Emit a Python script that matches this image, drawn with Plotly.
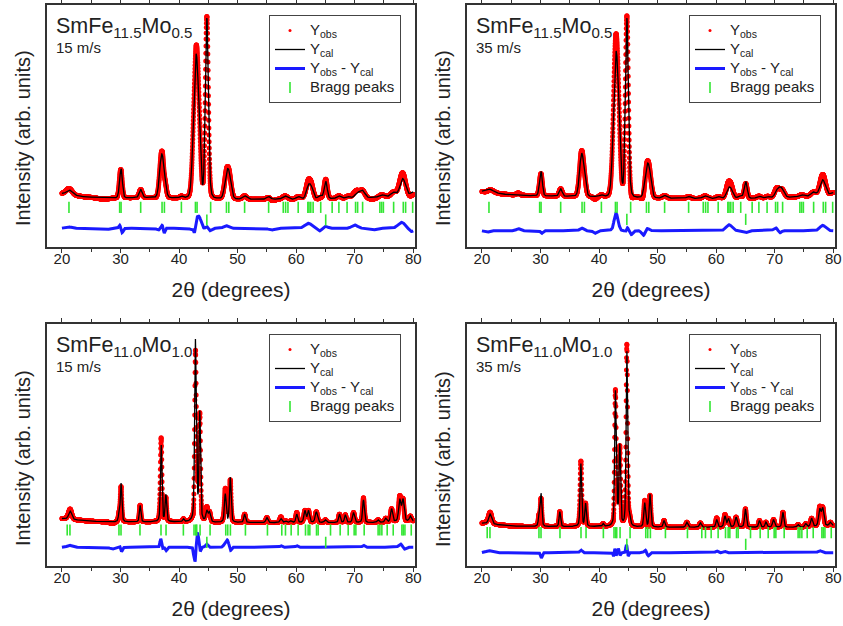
import numpy as np
import plotly.graph_objects as go

# ---------------------------------------------------------------------------
# Rietveld refinement of melt-spun SmFe(12-x)Mo(x) ribbons (Cu K-alpha)
# Each pattern: refined background points, refined reflection list
# (position, height, FWHM) for the calculated profile, and the
# observed-minus-calculated misfit features.
# ---------------------------------------------------------------------------
TT_MIN, TT_MAX, TT_STEP = 20.0, 80.0, 0.02

# ---- SmFe11.5Mo0.5, 15 m/s -------------------------------------------------
mo05_15_bg_tt = [20, 24, 28, 34, 40, 46, 52, 60, 66, 70, 74, 80]
mo05_15_bg_y = [160, 150, 147, 148, 146, 144, 143, 143, 145, 146, 149, 155]
mo05_15_pk_pos = [21.3, 29.85, 30.12, 33.45, 37.0, 37.5, 40.4, 42.8, 43.3, 44.75, 45.4,
                  48.1, 48.6, 51.2, 55.3, 58.1, 60.35, 62.05, 62.6, 64.1, 65.05, 67.3, 68.8,
                  70.4, 71.3, 74.6, 76.6, 78.2, 79.9]
mo05_15_pk_h = [14, 15, 80, 24, 120, 40, 5, 360, 170, 539, 8,
                62, 58, 10, 8, 10, 8, 34, 30, 10, 52, 8, 6,
                14, 22, 7, 12, 52, 10]
mo05_15_pk_w = [1.2, 0.5, 0.5, 0.6, 0.8, 0.7, 0.6, 0.9, 0.8, 0.6, 0.6,
                0.8, 0.8, 0.8, 0.8, 1.0, 0.8, 0.8, 0.8, 0.8, 0.6, 0.8, 0.8,
                1.0, 1.0, 1.0, 1.0, 1.1, 0.8]
mo05_15_res_pos = [21.0, 27.0, 29.95, 30.2, 36.5, 37.2, 37.45, 42.3, 42.65, 42.9, 43.5,
                   44.8, 45.2, 48.0, 55.8, 62.1, 64.0, 65.0, 70.0, 73.0, 78.0, 79.7]
mo05_15_res_amp = [5, -4, 15, -18, -6, 12, -22, -10, -30, 28, 25,
                   8, -8, 8, -5, 15, -8, 6, 10, -5, 18, -10]
mo05_15_res_w = [0.5, 1.0, 0.2, 0.2, 0.3, 0.3, 0.15, 0.3, 0.15, 0.4, 0.3,
                 0.2, 0.3, 0.4, 0.5, 0.6, 0.4, 0.4, 0.5, 0.6, 0.6, 0.4]
mo05_15_bragg = [21.2, 29.86, 30.1, 33.45, 37.1, 37.5, 40.4, 42.8, 43.08, 45.4, 48.1, 48.5,
                 51.2, 55.3, 57.8, 58.2, 58.6, 60.35, 62.0, 62.2, 62.5, 62.9, 64.2, 66.15,
                 67.3, 68.7, 70.15, 70.5, 71.35, 74.3, 74.6, 74.9, 76.65, 78.3, 78.7, 79.9]

# ---- SmFe11.5Mo0.5, 35 m/s -------------------------------------------------
mo05_35_bg_tt = [20, 24, 28, 34, 40, 46, 52, 60, 66, 70, 74, 80]
mo05_35_bg_y = [166, 158, 154, 152, 150, 147, 146, 145, 146, 147, 150, 155]
mo05_35_pk_pos = [21.3, 29.85, 30.12, 33.45, 37.0, 37.5, 40.4, 42.8, 43.3, 44.75, 45.4,
                  48.1, 48.6, 51.2, 55.3, 58.1, 60.35, 62.05, 62.6, 64.1, 65.05, 67.3, 68.8,
                  70.5, 71.2, 74.6, 76.6, 78.2, 79.9]
mo05_35_pk_h = [10, 15, 66, 22, 120, 35, 5, 365, 170, 536, 8,
                72, 66, 8, 6, 8, 6, 26, 22, 8, 50, 6, 5,
                22, 24, 6, 12, 48, 8]
mo05_35_pk_w = [1.5, 0.5, 0.5, 0.6, 0.8, 0.7, 0.6, 0.9, 0.8, 0.6, 0.6,
                0.8, 0.8, 0.8, 0.8, 1.0, 0.8, 0.8, 0.8, 0.8, 0.6, 0.8, 0.8,
                1.0, 1.0, 1.0, 1.0, 1.1, 0.8]
mo05_35_res_pos = [20.8, 26.2, 30.2, 37.0, 39.3, 42.4, 42.75, 43.1, 44.6, 44.8, 45.5,
                   47.6, 48.2, 62.2, 65.0, 70.3, 70.8, 78.2]
mo05_35_res_amp = [-5, 6, -8, 8, -8, -10, 40, 20, -8, 12, -12,
                   -15, 8, 18, -6, 10, -10, 16]
mo05_35_res_w = [0.4, 0.3, 0.2, 0.3, 0.3, 0.2, 0.35, 0.3, 0.15, 0.2, 0.3,
                 0.3, 0.3, 0.5, 0.4, 0.4, 0.3, 0.5]
mo05_35_bragg = mo05_15_bragg

# ---- SmFe11.0Mo1.0, 15 m/s -------------------------------------------------
mo10_15_bg_tt = [20, 25, 28, 35, 40, 46, 50, 55, 60, 65, 70, 75, 80]
mo10_15_bg_y = [142, 134, 132, 132, 132, 130, 130, 130, 130, 130, 130, 130, 134]
mo10_15_pk_pos = [21.4, 29.75, 30.1, 33.35, 36.95, 37.75, 40.75, 42.8, 43.1, 43.55, 44.75,
                  45.2, 47.9, 48.75, 51.2, 55.0, 57.4, 58.2, 59.1, 60.1, 61.5, 62.1, 63.45,
                  65.0, 67.4, 68.4, 69.8, 71.5, 74.0, 75.3, 76.3, 77.7, 78.25, 79.5]
mo10_15_pk_h = [25, 20, 115, 50, 230, 80, 8, 540, 40, 325, 32,
                28, 85, 135, 25, 15, 12, 5, 5, 25, 35, 35, 32,
                8, 25, 23, 30, 68, 8, 12, 40, 65, 65, 15]
mo10_15_pk_w = [0.6, 0.3, 0.3, 0.3, 0.3, 0.3, 0.3, 0.32, 0.3, 0.3, 0.4,
                0.4, 0.35, 0.32, 0.35, 0.4, 0.4, 0.4, 0.4, 0.35, 0.4, 0.4, 0.45,
                0.4, 0.35, 0.35, 0.4, 0.35, 0.4, 0.4, 0.4, 0.45, 0.45, 0.4]
mo10_15_res_pos = [21.3, 28.6, 29.95, 30.15, 36.9, 37.1, 37.8, 42.5, 42.75, 43.05, 43.3,
                   43.6, 44.7, 48.0, 48.3, 48.8, 57.4, 60.1, 71.5, 77.8, 78.5]
mo10_15_res_amp = [6, -5, 6, -15, 28, -8, -10, -15, -45, 35, 25,
                   -15, 10, 15, 12, -10, 5, 5, 6, 10, -6]
mo10_15_res_w = [0.4, 0.4, 0.15, 0.15, 0.15, 0.15, 0.15, 0.1, 0.15, 0.15, 0.15,
                 0.12, 0.2, 0.3, 0.2, 0.15, 0.2, 0.2, 0.2, 0.3, 0.2]
mo10_15_bragg = [20.9, 21.37, 29.74, 30.09, 33.33, 36.92, 37.78, 40.74, 42.56, 42.85, 43.02,
                 43.59, 45.3, 47.98, 48.32, 48.77, 51.34, 55.1, 57.55, 58.18, 59.15, 60.34,
                 61.6, 62.05, 62.34, 63.48, 63.76, 65.87, 67.52, 68.89, 69.91, 70.2, 71.62,
                 74.0, 74.3, 74.64, 75.55, 76.58, 78.06, 78.29, 78.58, 79.66]

# ---- SmFe11.0Mo1.0, 35 m/s -------------------------------------------------
mo10_35_bg_tt = [20, 25, 28, 35, 40, 46, 50, 55, 60, 65, 70, 75, 80]
mo10_35_bg_y = [128, 120, 118, 118, 118, 116, 116, 116, 116, 116, 116, 116, 121]
mo10_35_pk_pos = [21.4, 29.75, 30.1, 33.3, 36.9, 37.7, 40.7, 42.8, 43.1, 43.55, 44.75,
                  45.2, 47.8, 48.7, 51.1, 55.0, 57.3, 60.1, 61.5, 62.1, 63.4, 65.0,
                  67.4, 68.5, 69.8, 71.4, 74.0, 75.3, 76.3, 77.7, 78.2, 79.5]
mo10_35_pk_h = [30, 30, 98, 45, 188, 68, 8, 400, 40, 240, 525,
                20, 72, 98, 20, 15, 13, 23, 33, 25, 30, 55,
                20, 15, 23, 45, 8, 10, 25, 50, 52, 10]
mo10_35_pk_w = [0.6, 0.3, 0.3, 0.3, 0.3, 0.3, 0.3, 0.3, 0.3, 0.3, 0.3,
                0.4, 0.35, 0.32, 0.35, 0.4, 0.4, 0.35, 0.4, 0.4, 0.45, 0.35,
                0.35, 0.35, 0.4, 0.35, 0.4, 0.4, 0.4, 0.45, 0.45, 0.4]
mo10_35_res_pos = [21.2, 30.15, 36.9, 42.5, 42.7, 42.9, 43.3, 43.6, 44.7, 44.95,
                   47.9, 48.4, 60.1, 61.5, 77.7]
mo10_35_res_amp = [6, -16, 8, -12, 15, -10, 12, -8, 25, -12,
                   8, -10, 5, 4, 6]
mo10_35_res_w = [0.5, 0.15, 0.2, 0.1, 0.1, 0.1, 0.1, 0.1, 0.12, 0.12,
                 0.2, 0.2, 0.2, 0.2, 0.3]
mo10_35_bragg = mo10_15_bragg

# Second phase: alpha-Fe (110) and (200)
fe_bragg = [44.75, 65.05]

titles = ["SmFe<sub>11.5</sub>Mo<sub>0.5</sub>", "SmFe<sub>11.5</sub>Mo<sub>0.5</sub>",
          "SmFe<sub>11.0</sub>Mo<sub>1.0</sub>", "SmFe<sub>11.0</sub>Mo<sub>1.0</sub>"]
speeds = ["15 m/s", "35 m/s", "15 m/s", "35 m/s"]

# ---------------------------------------------------------------------------
# Profile model (pseudo-Voigt, peak-height normalised)
# ---------------------------------------------------------------------------
def pseudo_voigt(tt, pos, h, w, eta):
    d = (tt - pos) / w
    lor = 1.0 / (1.0 + 4.0 * d * d)
    gau = np.exp(-4.0 * np.log(2.0) * d * d)
    return h * (eta * lor + (1.0 - eta) * gau)


def calc_profile(tt, bg_tt, bg_y, pos, h, w, eta):
    y = np.interp(tt, bg_tt, bg_y)
    for p, a, fw in zip(pos, h, w):
        y = y + pseudo_voigt(tt, p, a, fw, eta)
    return y


def misfit(tt, pos, amp, w):
    r = np.zeros_like(tt)
    for p, a, s in zip(pos, amp, w):
        r = r + a * np.exp(-0.5 * ((tt - p) / s) ** 2)
    return r


tt = np.arange(TT_MIN, TT_MAX + TT_STEP / 2, TT_STEP)

panels = [
    dict(bg=(mo05_15_bg_tt, mo05_15_bg_y), pk=(mo05_15_pk_pos, mo05_15_pk_h, mo05_15_pk_w),
         res=(mo05_15_res_pos, mo05_15_res_amp, mo05_15_res_w), bragg=mo05_15_bragg, eta=0.1),
    dict(bg=(mo05_35_bg_tt, mo05_35_bg_y), pk=(mo05_35_pk_pos, mo05_35_pk_h, mo05_35_pk_w),
         res=(mo05_35_res_pos, mo05_35_res_amp, mo05_35_res_w), bragg=mo05_35_bragg, eta=0.1),
    dict(bg=(mo10_15_bg_tt, mo10_15_bg_y), pk=(mo10_15_pk_pos, mo10_15_pk_h, mo10_15_pk_w),
         res=(mo10_15_res_pos, mo10_15_res_amp, mo10_15_res_w), bragg=mo10_15_bragg, eta=0.4),
    dict(bg=(mo10_35_bg_tt, mo10_35_bg_y), pk=(mo10_35_pk_pos, mo10_35_pk_h, mo10_35_pk_w),
         res=(mo10_35_res_pos, mo10_35_res_amp, mo10_35_res_w), bragg=mo10_35_bragg, eta=0.4),
]

# vertical placement of the difference curve and the two tick rows
diff_offset = [56, 49, 56, 40]
tick_row_main = [119, 119, 108, 100]
tick_row_fe = [81, 83, 71, 65]

# ---------------------------------------------------------------------------
# Figure
# ---------------------------------------------------------------------------
W, H = 843, 626
FONT = "Liberation Sans, Arial, sans-serif"
TXT = "#222222"
RED, BLUE, GREEN = "#ff0000", "#1a1aff", "#33e633"


def big(s):
    return '<span style="font-size:15px">' + s + "</span>"


# plot-area boxes in pixels: (left, right, top, bottom)
boxes = [(47, 415, 5, 247), (467, 835, 5, 247), (47, 415, 324, 566), (467, 835, 324, 566)]
ytitle_center = [(23, 138), (443, 138), (23, 458), (443, 459)]

fig = go.Figure()
layout = dict(width=W, height=H, margin=dict(l=0, r=0, t=0, b=0),
              paper_bgcolor="white", plot_bgcolor="white", showlegend=True,
              font=dict(family=FONT, color=TXT))
annotations = []

for i, (pn, box) in enumerate(zip(panels, boxes)):
    k = "" if i == 0 else str(i + 1)
    xa, ya = "x" + k, "y" + k
    lg = "legend" + k
    ycal = calc_profile(tt, *pn["bg"], *pn["pk"], pn["eta"])
    diff = misfit(tt, *pn["res"])
    yobs = ycal + diff

    # observed points (legend key drawn by a small-dot entry below)
    fig.add_trace(go.Scatter(x=tt, y=yobs, mode="markers", showlegend=False,
                             marker=dict(color=RED, size=5, line=dict(width=0)),
                             xaxis=xa, yaxis=ya))
    fig.add_trace(go.Scatter(x=[None], y=[None], mode="markers", name=big("Y<sub>obs</sub>"),
                             marker=dict(color=RED, size=3, line=dict(width=0)),
                             xaxis=xa, yaxis=ya, legend=lg))
    fig.add_trace(go.Scatter(x=tt, y=ycal, mode="lines", name=big("Y<sub>cal</sub>"),
                             line=dict(color="black", width=1.3),
                             xaxis=xa, yaxis=ya, legend=lg))
    fig.add_trace(go.Scatter(x=tt, y=diff + diff_offset[i], mode="lines",
                             name=big("Y<sub>obs</sub> - Y<sub>cal</sub>"),
                             line=dict(color=BLUE, width=3),
                             xaxis=xa, yaxis=ya, legend=lg))
    fig.add_trace(go.Scatter(x=pn["bragg"], y=[tick_row_main[i]] * len(pn["bragg"]),
                             mode="markers", name=big("Bragg peaks"),
                             marker=dict(symbol="line-ns", size=8, color=GREEN,
                                         line=dict(color=GREEN, width=1.6)),
                             xaxis=xa, yaxis=ya, legend=lg))
    fig.add_trace(go.Scatter(x=fe_bragg, y=[tick_row_fe[i]] * len(fe_bragg),
                             mode="markers", showlegend=False,
                             marker=dict(symbol="line-ns", size=8, color=GREEN,
                                         line=dict(color=GREEN, width=1.6)),
                             xaxis=xa, yaxis=ya))

    l, r, t, b = box
    layout["xaxis" + k] = dict(
        domain=[l / W, r / W], anchor=ya, range=[17.45, 80.3],
        tick0=0, dtick=10, ticks="outside", ticklen=4, tickwidth=1.2, tickcolor="#333",
        minor=dict(dtick=5, ticks="outside", ticklen=3, tickwidth=1.2, tickcolor="#333"),
        showline=True, linecolor="#333", linewidth=1.5, mirror="ticks",
        showgrid=False, zeroline=False, ticklabelstandoff=-7,
        tickfont=dict(size=15, color=TXT, family=FONT),
        title=dict(text="2\u03b8 (degrees)", font=dict(size=21, color=TXT, family=FONT),
                   standoff=17),
        automargin=False)
    layout["yaxis" + k] = dict(
        domain=[1 - b / H, 1 - t / H], anchor=xa, range=[0, 726],
        showticklabels=False, ticks="", showline=True, linecolor="#333", linewidth=1.5,
        mirror=True, showgrid=False, zeroline=False, automargin=False)
    layout[lg] = dict(x=(l + 222) / W, y=1 - (t + 10) / H, xanchor="left", yanchor="top",
                      bgcolor="white", bordercolor="#444", borderwidth=1,
                      font=dict(size=12, color=TXT, family=FONT),
                      tracegroupgap=0, itemwidth=30)
    cx, cy = ytitle_center[i]
    annotations.append(dict(text="Intensity (arb. units)", textangle=-90,
                            x=cx / W, y=1 - cy / H, xref="paper", yref="paper",
                            xanchor="center", yanchor="middle", showarrow=False,
                            font=dict(size=20, color=TXT, family=FONT)))
    annotations.append(dict(text=titles[i], x=(l + 7) / W, y=1 - (t + 7) / H,
                            xref="paper", yref="paper", xanchor="left", yanchor="top",
                            showarrow=False, font=dict(size=21.5, color=TXT, family=FONT)))
    annotations.append(dict(text=speeds[i], x=(l + 7) / W, y=1 - (t + 42) / H,
                            xref="paper", yref="paper", xanchor="left", yanchor="middle",
                            showarrow=False, font=dict(size=15, color=TXT, family=FONT)))

layout["annotations"] = annotations
fig.update_layout(**layout)
fig.write_html("out.html")
